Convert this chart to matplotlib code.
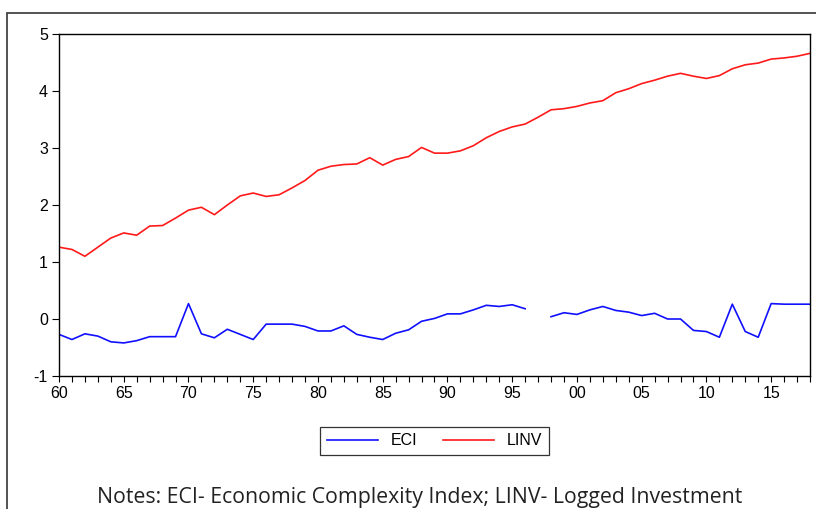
import numpy as np
import matplotlib
matplotlib.use('Agg')
import matplotlib.pyplot as plt
from matplotlib.patches import Rectangle

# %%
years = list(range(1960, 2019))

eci = [-0.27, -0.36, -0.26, -0.30, -0.40, -0.42, -0.38, -0.31, -0.31, -0.31,
       0.27, -0.26, -0.33, -0.18, -0.27, -0.36, -0.09, -0.09, -0.09, -0.13,
       -0.21, -0.21, -0.12, -0.27, -0.32, -0.36, -0.25, -0.19, -0.04, 0.01,
       0.09, 0.09, 0.16, 0.24, 0.22, 0.25, 0.18, np.nan, 0.04, 0.11,
       0.08, 0.16, 0.22, 0.15, 0.12, 0.06, 0.10, 0.00, 0.00, -0.20,
       -0.22, -0.32, 0.26, -0.22, -0.32, 0.27, 0.26, 0.26, 0.26]

linv = [1.26, 1.22, 1.10, 1.26, 1.42, 1.51, 1.47, 1.63, 1.64, 1.77,
        1.91, 1.96, 1.83, 2.00, 2.16, 2.21, 2.15, 2.18, 2.30, 2.43,
        2.61, 2.68, 2.71, 2.72, 2.83, 2.70, 2.80, 2.85, 3.01, 2.91,
        2.91, 2.95, 3.04, 3.18, 3.29, 3.37, 3.42, 3.54, 3.67, 3.69,
        3.73, 3.79, 3.83, 3.97, 4.04, 4.13, 4.19, 4.26, 4.31, 4.26,
        4.22, 4.27, 4.39, 4.46, 4.49, 4.56, 4.58, 4.61, 4.66]

xtick_years = list(range(1960, 2019, 5))
xtick_labels = ['60', '65', '70', '75', '80', '85', '90', '95', '00', '05', '10', '15']

note = 'Notes: ECI- Economic Complexity Index; LINV- Logged Investment'

# %%
plt.rcParams['font.family'] = ['Liberation Sans', 'DejaVu Sans']
plt.rcParams['axes.unicode_minus'] = False

fig = plt.figure(figsize=(8.16, 5.09), dpi=100)
ax = fig.add_axes([59/816, 1 - 376/509, 751/816, 342/509])

# outer frame of the source picture
fig.patches.append(Rectangle((7/816, -0.1), 1.2, 1 - 13/509 + 0.1,
                             transform=fig.transFigure, fill=False,
                             edgecolor='#444444', lw=1.3))

ax.plot(years, eci, color='#1010ff', lw=1.2, label='ECI')
ax.plot(years, linv, color='#ff1a1a', lw=1.2, label='LINV')

ax.set_xlim(1960, 2018)
ax.set_ylim(-1, 5)
ax.set_yticks(range(-1, 6))
ax.set_xticks(xtick_years)
ax.set_xticklabels(xtick_labels)
ax.set_xticks(years, minor=True)
ax.tick_params(axis='both', which='both', direction='out', length=5, width=0.8,
               labelsize=11.5, colors='black')
ax.tick_params(axis='x', which='both', length=4)
ax.tick_params(axis='y', pad=3)
ax.tick_params(axis='x', pad=3)
for s in ax.spines.values():
    s.set_linewidth(1.0)

leg = ax.legend(loc='upper center', bbox_to_anchor=(0.5, -0.125), ncol=2,
                frameon=True, fancybox=False, edgecolor='black',
                fontsize=11.5, handlelength=3.2, columnspacing=1.6,
                borderpad=0.42, handletextpad=0.8)
leg.get_frame().set_linewidth(0.9)

fig.text(420/816, 1 - 497/509, note, ha='center', va='center',
         fontsize=15.3, color='#222222', family=['Open Sans', 'DejaVu Sans'])

fig.savefig('out.png', dpi=100)
